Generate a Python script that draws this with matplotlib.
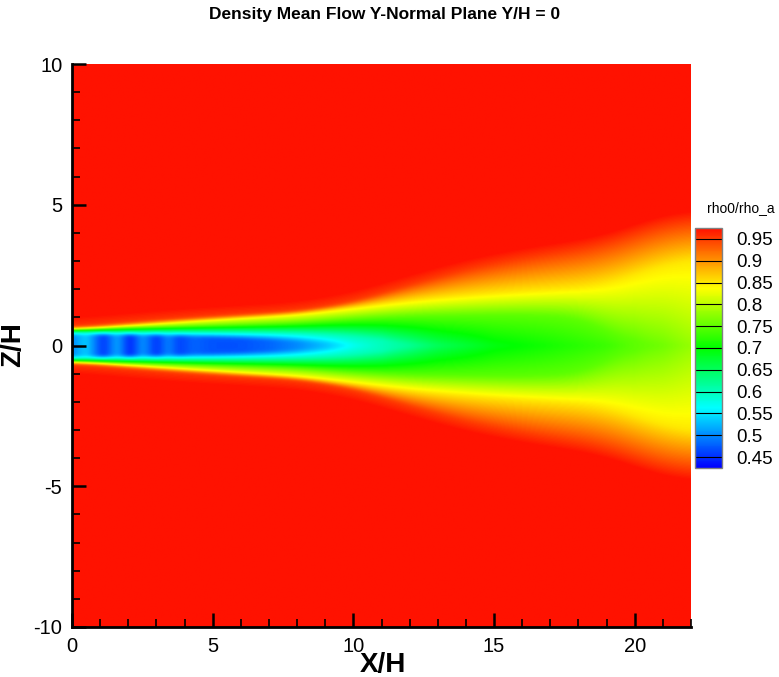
import numpy as np
import matplotlib.pyplot as plt
from matplotlib.colors import LinearSegmentedColormap
from matplotlib.ticker import MultipleLocator

plt.rcParams['font.family'] = ['Liberation Sans', 'DejaVu Sans']
plt.rcParams['axes.unicode_minus'] = False

# density ratio along the jet centreline (shock cells near the nozzle)
axis_x = [0.0, 0.5, 1.1, 1.6, 2.05, 2.5, 3.0, 3.4, 3.8, 4.3, 5.0, 6.0, 7.0,
          8.0, 9.0, 10.0, 11.0, 12.0, 13.0, 14.0, 15.0, 16.0, 17.0, 18.0,
          19.0, 20.0, 21.0, 22.0]
axis_rho = [0.50, 0.54, 0.45, 0.52, 0.44, 0.51, 0.45, 0.50, 0.46, 0.48, 0.47,
            0.47, 0.48, 0.50, 0.53, 0.57, 0.60, 0.62, 0.65, 0.67, 0.69, 0.70,
            0.71, 0.72, 0.73, 0.75, 0.76, 0.78]

# half-widths (in Z/H) of the iso-density lines at each station
station_x = [0, 2, 4, 6, 8, 10, 12, 14, 16, 18, 19, 20, 21, 22]
core_w = [0.36, 0.34, 0.30, 0.24, 0.14, 0.0, 0.0, 0.0, 0.0, 0.0, 0.0, 0.0, 0.0, 0.0]
w_060 = [0.48, 0.48, 0.48, 0.47, 0.45, 0.35, 0.0, 0.0, 0.0, 0.0, 0.0, 0.0, 0.0, 0.0]
w_075 = [0.55, 0.62, 0.68, 0.74, 0.80, 0.95, 1.05, 1.08, 1.10, 1.02, 0.60, 0.0, 0.0, 0.0]
w_085 = [0.58, 0.72, 0.86, 1.00, 1.12, 1.35, 1.60, 1.78, 1.92, 2.05, 2.15, 2.50, 2.85, 3.05]
w_095 = [0.62, 0.80, 0.96, 1.08, 1.20, 1.55, 2.15, 2.70, 3.10, 3.40, 3.60, 3.95, 4.30, 4.45]
levels = [0.60, 0.75, 0.85, 0.95]

cbar_ticks = [0.45, 0.5, 0.55, 0.6, 0.65, 0.7, 0.75, 0.8, 0.85, 0.9, 0.95]
vmin, vmax = 0.425, 0.975

xg = np.linspace(0, 22, 881)
zg = np.linspace(-10, 10, 801)
dx = xg[1] - xg[0]


def smooth1d(v, sigma):
    r = int(3 * sigma) + 1
    k = np.exp(-0.5 * (np.arange(-r, r + 1) / sigma) ** 2)
    k /= k.sum()
    return np.convolve(np.pad(v, r, mode='edge'), k, mode='valid')


# iso-line widths along x, smoothed so the edges have no corners
rc_x = smooth1d(np.interp(xg, axis_x, axis_rho), 0.12 / dx)
cw_x = smooth1d(np.interp(xg, station_x, core_w), 1.0 / dx)
w_x = [smooth1d(np.interp(xg, station_x, w), 0.7 / dx)
       for w in [w_060, w_075, w_085, w_095]]

field = np.ones((len(zg), len(xg)))
for j in range(len(xg)):
    rc = rc_x[j]
    zs = [0.0]
    vals = [rc]
    if cw_x[j] > 1e-3:
        zs.append(cw_x[j])
        vals.append(rc)
    for lev, w in zip(levels, w_x):
        if w[j] > zs[-1] + 1e-3:
            zs.append(w[j])
            vals.append(max(lev, rc))
    zs += [zs[-1] + 0.6, 10.0]
    vals += [0.99, 1.0]
    field[:, j] = np.interp(np.abs(zg), zs, vals)

# light blur across the jet
r = 8
k = np.exp(-0.5 * (np.arange(-r, r + 1) / 2.4) ** 2)
k /= k.sum()
field = np.apply_along_axis(
    lambda v: np.convolve(np.pad(v, r, mode='edge'), k, mode='valid'), 0, field)

cmap = LinearSegmentedColormap.from_list(
    'rainbow_small', ['#0000ff', '#00ffff', '#00ff00', '#ffff00', '#ff1200'])

fig = plt.figure(figsize=(7.79, 6.77), dpi=100)
ax = fig.add_axes([72 / 779, 50 / 677, 619 / 779, 563 / 677])
im = ax.imshow(field, origin='lower', extent=[0, 22, -10, 10], cmap=cmap,
               vmin=vmin, vmax=vmax, interpolation='bilinear', aspect='auto')
ax.set_xlim(0, 22)
ax.set_ylim(-10, 10)

for s in ['top', 'right']:
    ax.spines[s].set_visible(False)
for s in ['left', 'bottom']:
    ax.spines[s].set_linewidth(2.0)

ax.xaxis.set_major_locator(MultipleLocator(5))
ax.xaxis.set_minor_locator(MultipleLocator(1))
ax.yaxis.set_major_locator(MultipleLocator(5))
ax.yaxis.set_minor_locator(MultipleLocator(1))
ax.tick_params(which='major', direction='in', length=10, width=1.8,
               labelsize=14.5, pad=7)
ax.tick_params(which='minor', direction='in', length=5.5, width=1.2)

fig.text(385 / 779, 1 - 14 / 677, 'Density Mean Flow Y-Normal Plane Y/H = 0',
         ha='center', va='center', fontsize=12.5, fontweight='bold')
fig.text(383 / 779, 1 - 665 / 677, 'X/H', ha='center', va='center',
         fontsize=20, fontweight='bold')
fig.text(13 / 779, 1 - 345 / 677, 'Z/H', ha='center', va='center',
         fontsize=20, fontweight='bold', rotation=90)

cax = fig.add_axes([695 / 779, (677 - 468) / 677, 27 / 779, 240 / 677])
cb = fig.colorbar(im, cax=cax, ticks=cbar_ticks)
cb.ax.set_yticklabels(['%g' % t for t in cbar_ticks])
for t in cbar_ticks:
    cax.axhline(t, color='k', lw=0.8)
cax.tick_params(length=0, pad=10, labelsize=13.5)
cb.outline.set_edgecolor('#808080')
cb.outline.set_linewidth(1.0)
fig.text(707 / 779, 1 - 208 / 677, 'rho0/rho_a', ha='left', va='center',
         fontsize=10)

fig.savefig('out.png', dpi=100)
